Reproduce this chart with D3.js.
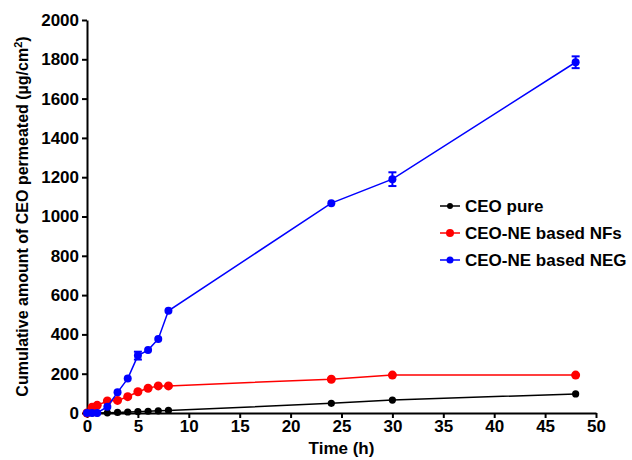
<!DOCTYPE html>
<html>
<head>
<meta charset="utf-8">
<script src="https://cdn.jsdelivr.net/npm/d3@7"></script>
<style>
  body { margin: 0; background: #fff; }
  text { font-family: "Liberation Sans", Arial, sans-serif; font-weight: bold; }
</style>
</head>
<body>
<div id="chart"></div>
<script>
// Data
var times = [0, 0.5, 1, 2, 3, 4, 5, 6, 7, 8, 24, 30, 48];
var pure = [0, 0, 0, 1, 3, 5, 7, 9, 11, 13, 49, 66, 97];
var nfs = [0, 29, 39, 61, 64, 83, 108, 126, 138, 138, 172, 193, 193];
var neg = [0, 0, 0, 32, 105, 175, 292, 320, 377, 520, 1068, 1190, 1785];
var negErr = [0, 0, 0, 0, 0, 0, 20, 0, 0, 0, 0, 35, 30];
var xTicks = [0, 5, 10, 15, 20, 25, 30, 35, 40, 45, 50];
var yTicks = [0, 200, 400, 600, 800, 1000, 1200, 1400, 1600, 1800, 2000];

var series = [
  { name: "CEO pure", values: pure, color: "black", r: 3.6, lr: 3 },
  { name: "CEO-NE based NFs", values: nfs, color: "red", r: 4.5, lr: 4 },
  { name: "CEO-NE based NEG", values: neg, color: "blue", r: 4, lr: 3.5, err: negErr }
];

var width = 632, height = 460;
var padLeft = 87, padRight = 596, padTop = 20, padBottom = 413;

var svg = d3.select("#chart").append("svg")
  .attr("width", width)
  .attr("height", height);

var x = d3.scaleLinear().domain([0, 50]).range([padLeft, padRight]);
var y = d3.scaleLinear().domain([0, 2000]).range([padBottom, padTop]);

// Axes
var xAxis = svg.append("g")
  .attr("transform", "translate(0," + padBottom + ")")
  .call(d3.axisBottom(x).tickValues(xTicks).tickFormat(d3.format("d"))
    .tickSize(5).tickPadding(2).tickSizeOuter(0));
var yAxis = svg.append("g")
  .attr("transform", "translate(" + padLeft + ",0)")
  .call(d3.axisLeft(y).tickValues(yTicks).tickFormat(d3.format("d"))
    .tickSize(5).tickPadding(3).tickSizeOuter(0));

[xAxis, yAxis].forEach(function (g) {
  g.selectAll("path, line").style("stroke", "black").style("stroke-width", 2);
  g.selectAll("text").style("font-size", "17px").style("fill", "black");
});

// Lines and points
var line = d3.line()
  .x(function (d, i) { return x(times[i]); })
  .y(function (d) { return y(d); });

series.forEach(function (s) {
  svg.append("path")
    .datum(s.values)
    .attr("d", line)
    .style("fill", "none")
    .style("stroke", s.color)
    .style("stroke-width", 1.5);

  if (s.err) {
    s.values.forEach(function (v, i) {
      var e = s.err[i];
      if (!e) return;
      var cx = x(times[i]);
      var g = svg.append("g").style("stroke", s.color).style("stroke-width", 2);
      g.append("line").attr("x1", cx).attr("x2", cx).attr("y1", y(v - e)).attr("y2", y(v + e));
      g.append("line").attr("x1", cx - 4).attr("x2", cx + 4).attr("y1", y(v - e)).attr("y2", y(v - e));
      g.append("line").attr("x1", cx - 4).attr("x2", cx + 4).attr("y1", y(v + e)).attr("y2", y(v + e));
    });
  }

  svg.append("g").selectAll("circle")
    .data(s.values)
    .enter().append("circle")
    .attr("cx", function (d, i) { return x(times[i]); })
    .attr("cy", function (d) { return y(d); })
    .attr("r", s.r)
    .style("fill", s.color);
});

// Legend
series.forEach(function (s, i) {
  var ly = 206 + i * 27;
  svg.append("line")
    .attr("x1", 440).attr("x2", 460).attr("y1", ly).attr("y2", ly)
    .style("stroke", s.color).style("stroke-width", 1.5);
  svg.append("circle")
    .attr("cx", 450).attr("cy", ly).attr("r", s.lr)
    .style("fill", s.color);
  svg.append("text")
    .attr("x", 465).attr("y", ly + 6)
    .style("font-size", "17px")
    .text(s.name);
});

// Axis titles
svg.append("text")
  .attr("x", (padLeft + padRight) / 2).attr("y", 454)
  .attr("text-anchor", "middle")
  .style("font-size", "17px")
  .text("Time (h)");

var yt = svg.append("text")
  .attr("transform", "translate(28," + ((padTop + padBottom) / 2) + ") rotate(-90)")
  .attr("text-anchor", "middle")
  .style("font-size", "16px");
yt.append("tspan").text("Cumulative amount of CEO permeated (µg/cm");
yt.append("tspan").attr("dy", -6).style("font-size", "11px").text("2");
yt.append("tspan").attr("dy", 6).text(")");
</script>
</body>
</html>
